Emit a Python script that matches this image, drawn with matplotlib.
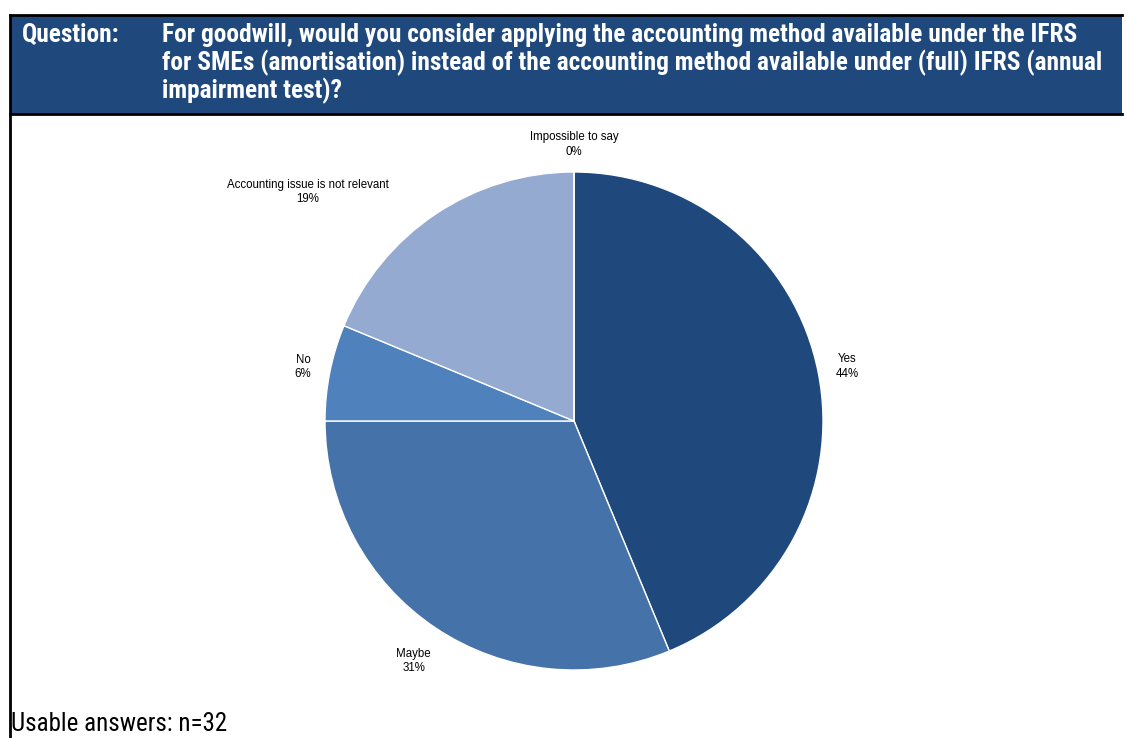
import numpy as np
import matplotlib.pyplot as plt
from matplotlib.patches import Rectangle

# survey answers (n=32)
answers = ['Yes', 'Maybe', 'No', 'Accounting issue is not relevant', 'Impossible to say']
counts = [14, 10, 2, 6, 0]
colors = ['#1F497D', '#4572A8', '#4F81BD', '#95AAD0', '#C0CCE4']
n_total = 32

question = ['For goodwill, would you consider applying the accounting method available under the IFRS',
            'for SMEs (amortisation) instead of the accounting method available under (full) IFRS (annual',
            'impairment test)?']

narrow = ['Liberation Sans Narrow', 'Arial Narrow', 'Roboto Condensed', 'Asap Condensed',
          'Liberation Sans']

W, H = 1126, 738
fig = plt.figure(figsize=(W / 100, H / 100), dpi=100)
ax = fig.add_axes([0, 0, 1, 1])

def py(y):
    # pixel rows counted from the top
    return H - y

# header box
ax.add_patch(Rectangle((10, py(114)), 1112, 99, facecolor='#1F497D', edgecolor='none', zorder=1))
ax.plot([10, 1122], [py(15), py(15)], color='black', lw=2, zorder=2)
ax.plot([10, 1122], [py(114), py(114)], color='black', lw=2, zorder=2)
ax.plot([10, 10], [py(15), py(738)], color='black', lw=2, zorder=2)

head_font = dict(family=narrow, weight='bold', size=18.3, color='white', va='baseline', zorder=3)
ax.text(22, py(42), 'Question:', **head_font)
for i, line in enumerate(question):
    ax.text(162, py(42 + 28 * i), line, **head_font)

# pie
cx, cy, r = 574, py(421), 249
wedges, _ = ax.pie(counts, colors=colors, startangle=90, counterclock=False,
                   center=(cx, cy), radius=r,
                   wedgeprops=dict(edgecolor='white', linewidth=1))

# label distance (in radii) and angle nudge per slice
label_dist = [1.12, 1.16, 1.11, 1.41, 1.11]
label_turn = [0, 0, 0, 15.5, 0]
for w, name, c, d, t in zip(wedges, answers, counts, label_dist, label_turn):
    ang = np.deg2rad((w.theta1 + w.theta2) / 2 + t)
    x = cx + r * d * np.cos(ang)
    y = cy + r * d * np.sin(ang)
    pct = round(100 * c / n_total)
    ax.text(x, y, f'{name}\n{pct}%', ha='center', va='center', fontsize=8.3,
            family='Liberation Sans', color='black', linespacing=1.25)

ax.text(11, py(731), f'Usable answers: n={n_total}', family=narrow,
        fontsize=18, color='black', va='baseline')

ax.set_xlim(0, W)
ax.set_ylim(0, H)
ax.set_aspect('auto')
ax.axis('off')

fig.savefig('out.png', dpi=100)
